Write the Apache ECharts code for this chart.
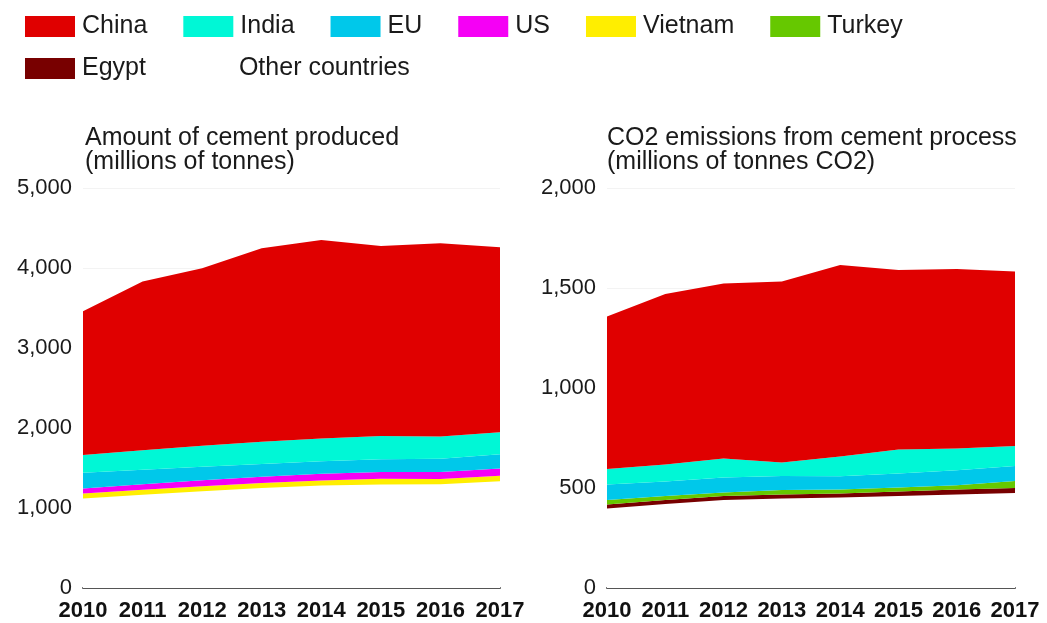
<!DOCTYPE html>
<html>
<head>
<meta charset="utf-8">
<script src="https://cdn.jsdelivr.net/npm/echarts@6/dist/echarts.min.js"></script>
<style>
html,body{margin:0;padding:0;background:#fff;}
#c{width:1047px;height:623px;}
</style>
</head>
<body>
<div id="c"></div>
<script>
// ---- data ----
const years = ['2010','2011','2012','2013','2014','2015','2016','2017'];

// Cement produced (millions of tonnes)
const prodOther   = [1120, 1165, 1210, 1250, 1280, 1295, 1296, 1335];
const prodVietnam = [60, 62, 63, 64, 65, 70, 66, 68];
const prodUS      = [65, 70, 74, 78, 83, 85, 88, 90];
const prodEU      = [195, 180, 168, 157, 157, 159, 165, 178];
const prodIndia   = [222, 245, 262, 280, 285, 292, 280, 275];
const prodChina   = [1798, 2108, 2219, 2417, 2480, 2374, 2413, 2312];

// CO2 emissions from cement process (millions of tonnes CO2)
const co2Other  = [397, 420, 440, 448, 452, 460, 468, 475];
const co2Egypt  = [20, 20, 20, 20, 21, 22, 24, 25];
const co2Turkey = [23, 20, 18, 22, 20, 20, 22, 35];
const co2EU     = [77, 72, 74, 70, 66, 71, 75, 75];
const co2India  = [78, 86, 96, 68, 98, 120, 108, 100];
const co2China  = [762, 852, 875, 904, 958, 897, 898, 872];

const legendRow1 = ['China','India','EU','US','Vietnam','Turkey'];
const legendRow2 = ['Egypt','Other countries'];

// ---- styling ----
const colors = {
  'China':'#e00000','India':'#00f7d6','EU':'#00c8ea','US':'#f500f5',
  'Vietnam':'#ffee00','Turkey':'#66c800','Egypt':'#780000','Other countries':'#ffffff'
};
const FONT = '"Liberation Sans", Arial, sans-serif';
const TXT = '#1a1a1a';

function area(name, data, idx){
  return {
    name: name, type: 'line', data: data, stack: 's' + idx,
    xAxisIndex: idx, yAxisIndex: idx,
    symbol: 'none', smooth: false,
    lineStyle: {width: 0},
    itemStyle: {color: colors[name]},
    areaStyle: {color: colors[name], opacity: 1},
    emphasis: {disabled: true}, silent: true
  };
}

function xAx(idx){
  return {
    type: 'category', gridIndex: idx, data: years, boundaryGap: false,
    axisLine: {show: true, lineStyle: {color: '#555', width: 2}},
    axisTick: {show: false},
    axisLabel: {color: '#111', fontFamily: FONT,
      fontWeight: 'bold', fontSize: 22, margin: 12, interval: 0}
  };
}
function yAx(idx, max, interval){
  return {
    type: 'value', gridIndex: idx, min: 0, max: max, interval: interval,
    axisLine: {show: false}, axisTick: {show: false},
    splitLine: {show: true, lineStyle: {color: '#f3f3f3', width: 1}},
    axisLabel: {color: TXT, fontFamily: FONT, fontSize: 22, margin: 11,
      formatter: v => v.toLocaleString('en-US')}
  };
}

const legendBase = {
  itemWidth: 50, itemHeight: 21, itemGap: 36, icon: 'rect', selectedMode: false, padding: 0,
  textStyle: {fontFamily: FONT, fontSize: 25, color: TXT, padding: [0, 0, 0, 2]}
};

const chart = echarts.init(document.getElementById('c'), null, {renderer: 'canvas'});
chart.setOption({
  animation: false,
  backgroundColor: '#fff',
  color: Object.values(colors),
  title: [
    {text: 'Amount of cement produced\n(millions of tonnes)', left: 80, top: 121,
     textStyle: {fontFamily: FONT, fontSize: 25, fontWeight: 'normal', color: TXT, lineHeight: 24}},
    {text: 'CO2 emissions from cement process\n(millions of tonnes CO2)', left: 602, top: 121,
     textStyle: {fontFamily: FONT, fontSize: 25, fontWeight: 'normal', color: TXT, lineHeight: 24}}
  ],
  legend: [
    Object.assign({}, legendBase, {data: legendRow1, left: 25, top: 14}),
    Object.assign({}, legendBase, {data: legendRow2, left: 25, top: 56})
  ],
  grid: [
    {left: 83, right: 547, top: 188, bottom: 35},
    {left: 607, right: 32, top: 188, bottom: 35}
  ],
  xAxis: [xAx(0), xAx(1)],
  yAxis: [yAx(0, 5000, 1000), yAx(1, 2000, 500)],
  series: [
    area('Other countries', prodOther, 0),
    area('Vietnam', prodVietnam, 0),
    area('US', prodUS, 0),
    area('EU', prodEU, 0),
    area('India', prodIndia, 0),
    area('China', prodChina, 0),
    area('Other countries', co2Other, 1),
    area('Egypt', co2Egypt, 1),
    area('Turkey', co2Turkey, 1),
    area('EU', co2EU, 1),
    area('India', co2India, 1),
    area('China', co2China, 1)
  ]
});
</script>
</body>
</html>
